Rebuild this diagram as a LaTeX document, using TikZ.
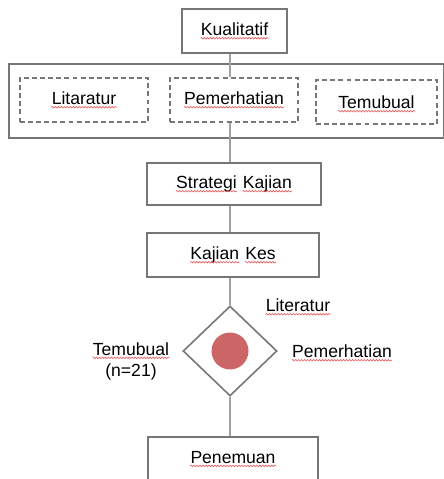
\documentclass[tikz,border=0pt]{standalone}
\usepackage{fontspec}
\setmainfont{Liberation Sans}
\usepackage{xcolor}
\usepackage{tikz}
\usetikzlibrary{shapes.geometric,positioning,calc,decorations.pathmorphing}

\definecolor{boxgray}{RGB}{118,118,118}
\definecolor{linegray}{RGB}{160,160,160}
\definecolor{dotred}{RGB}{204,102,102}
\definecolor{spellred}{RGB}{235,90,90}

\newcommand{\spell}[1]{\tikz[baseline=(sp.base)]{\node[shape=rectangle,inner sep=0pt,minimum width=0pt,minimum height=0pt,draw=none,fill=none,solid](sp){#1};
\draw[solid,spellred,line width=0.35pt,decorate,decoration={snake,amplitude=0.45pt,segment length=1.7pt}]
([yshift=-1.6pt]sp.base west) -- ([yshift=-1.6pt]sp.base east);}}

\begin{document}
\begin{tikzpicture}[x=0.02cm,y=-0.02cm,font=\fontsize{10}{12}\selectfont,
  box/.style={draw=boxgray,line width=1.2pt,fill=white,minimum height=0.88cm,inner sep=0pt},
  dashbox/.style={draw=boxgray,line width=1.1pt,dash pattern=on 2.8pt off 1.8pt,minimum width=2.56cm,minimum height=0.88cm,inner sep=0pt},
  link/.style={draw=linegray,line width=1pt}]
\useasboundingbox (0,0) rectangle (443,479);
% top part
\node[box,minimum width=2.1cm] (kual) at (234.5,31) {\spell{Kualitatif}};
\node[draw=boxgray,line width=1.4pt,minimum width=8.7cm,minimum height=1.48cm] (frame) at (226.5,101) {};
\node[dashbox] (lit) at (84,100) {\spell{Litaratur}};
\node[dashbox] (pem) at (234,100) {\spell{Pemerhatian}};
\node[dashbox,minimum width=2.42cm,text depth=-0.1cm] (tem) at (376.5,102) {\spell{Temubual}};
% middle part
\node[box,minimum width=3.48cm,minimum height=0.84cm] (strat) at (234,184) {\spell{Strategi} \spell{Kajian}};
\node[box,minimum width=3.44cm] (kes) at (233,255) {\spell{Kajian} \spell{Kes}};
\node[draw=boxgray,line width=0.9pt,diamond,minimum width=1.88cm,minimum height=1.8cm,inner sep=0pt] (dia) at (230,351) {};
\fill[dotred] (dia.center) circle (0.37cm);
\node[box,minimum width=3.4cm] (pen) at (233,459) {\spell{Penemuan}};
% labels round the diamond
\node (litlab) at (298,307) {\spell{Literatur}};
\node (pemlab) at (342,353) {\spell{Pemerhatian}};
\node[align=center] (temlab) at (131,361) {\spell{Temubual}\\(n=21)};
% connectors
\draw[link] (kual.south -| dia.center) -- (pem.north -| dia.center);
\draw[link] (pem.south -| dia.center) -- (strat.north -| dia.center);
\draw[link] (strat.south -| dia.center) -- (kes.north -| dia.center);
\draw[link] (kes.south -| dia.center) -- (dia.north);
\draw[link] (dia.south) -- (pen.north -| dia.center);
\end{tikzpicture}
\end{document}
